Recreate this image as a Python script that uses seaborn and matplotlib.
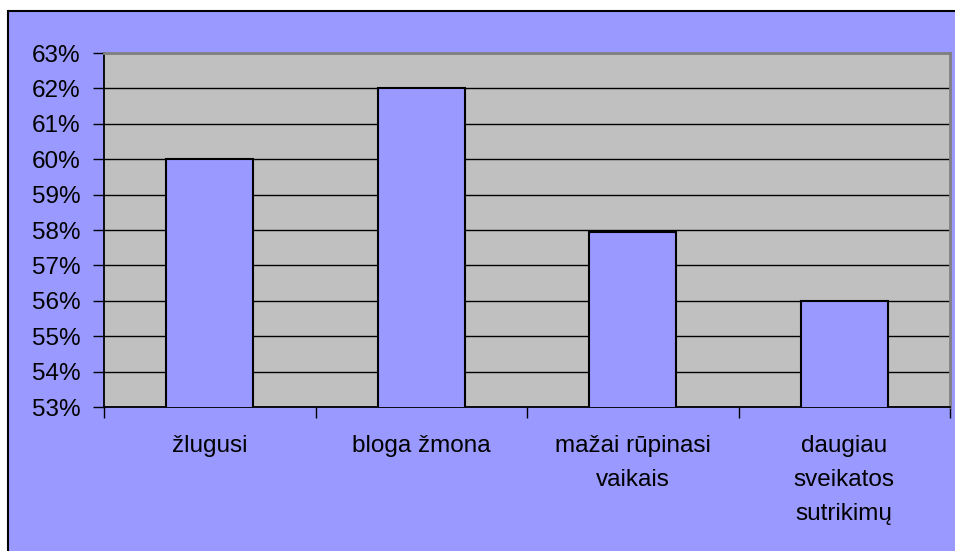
import matplotlib
matplotlib.use("Agg")
import matplotlib.pyplot as plt
import seaborn as sns
import pandas as pd
from matplotlib.patches import Rectangle
from matplotlib.ticker import FuncFormatter, FixedLocator

categories = ["žlugusi", "bloga žmona", "mažai rūpinasi\nvaikais", "daugiau\nsveikatos\nsutrikimų"]
values = [60.0, 62.0, 57.95, 56.0]
y_ticks = list(range(53, 64))

sns.set_style("white")
plt.rcParams["font.family"] = ["Liberation Sans", "DejaVu Sans"]
plt.rcParams["text.color"] = "black"
plt.rcParams["xtick.labelcolor"] = "black"
plt.rcParams["ytick.labelcolor"] = "black"

W, H = 955, 551
fig = plt.figure(figsize=(W / 100, H / 100), dpi=100)
fig.patch.set_facecolor("white")

# outer chart area
bg = Rectangle((8 / W, -0.01), 1.0, (H - 11) / H + 0.01, transform=fig.transFigure,
               facecolor="#9999FF", edgecolor="black", linewidth=1.5, zorder=-10)
fig.add_artist(bg)

left, right, top, bottom = 104, 950, 53, 407
ax = fig.add_axes([left / W, (H - bottom) / H, (right - left) / W, (bottom - top) / H])
ax.set_zorder(5)
ax.set_facecolor("#C0C0C0")

df = pd.DataFrame({"cat": categories, "val": values})
sns.barplot(data=df, x="cat", y="val", color="#9999FF", edgecolor="black",
            linewidth=1.5, width=0.41, saturation=1, ax=ax, zorder=3)

ax.set_ylim(53, 63)
ax.set_xlim(-0.5, len(categories) - 0.5)
ax.yaxis.set_major_locator(FixedLocator(y_ticks))
ax.yaxis.set_major_formatter(FuncFormatter(lambda v, p: f"{v:.0f}%"))
ax.grid(axis="y", color="black", linewidth=1, zorder=0)
ax.set_axisbelow(True)
ax.set_xlabel("")
ax.set_ylabel("")

# x ticks at category boundaries
ax.set_xticks([i - 0.5 for i in range(len(categories) + 1)], minor=True)
ax.tick_params(axis="x", which="major", length=0, pad=20.5, labelsize=17.5, labelcolor="black")
ax.tick_params(axis="x", which="minor", length=8, width=1, color="black", direction="out", bottom=True)
ax.tick_params(axis="y", length=8, width=1, color="black", direction="out", labelsize=17.5, pad=9,
               left=True, labelcolor="black")
ax.set_xticks(range(len(categories)))
ax.set_xticklabels(categories, va="top", color="black")

for s in ["left", "bottom"]:
    ax.spines[s].set_color("black")
    ax.spines[s].set_linewidth(1.3)
for s in ["top", "right"]:
    ax.spines[s].set_visible(True)
    ax.spines[s].set_color("#808080")
    ax.spines[s].set_linewidth(2)

fig.canvas.draw()
for lab in ax.get_xticklabels():
    lab.set_linespacing(1.7)

fig.savefig("out.png", dpi=100, facecolor=fig.get_facecolor())
